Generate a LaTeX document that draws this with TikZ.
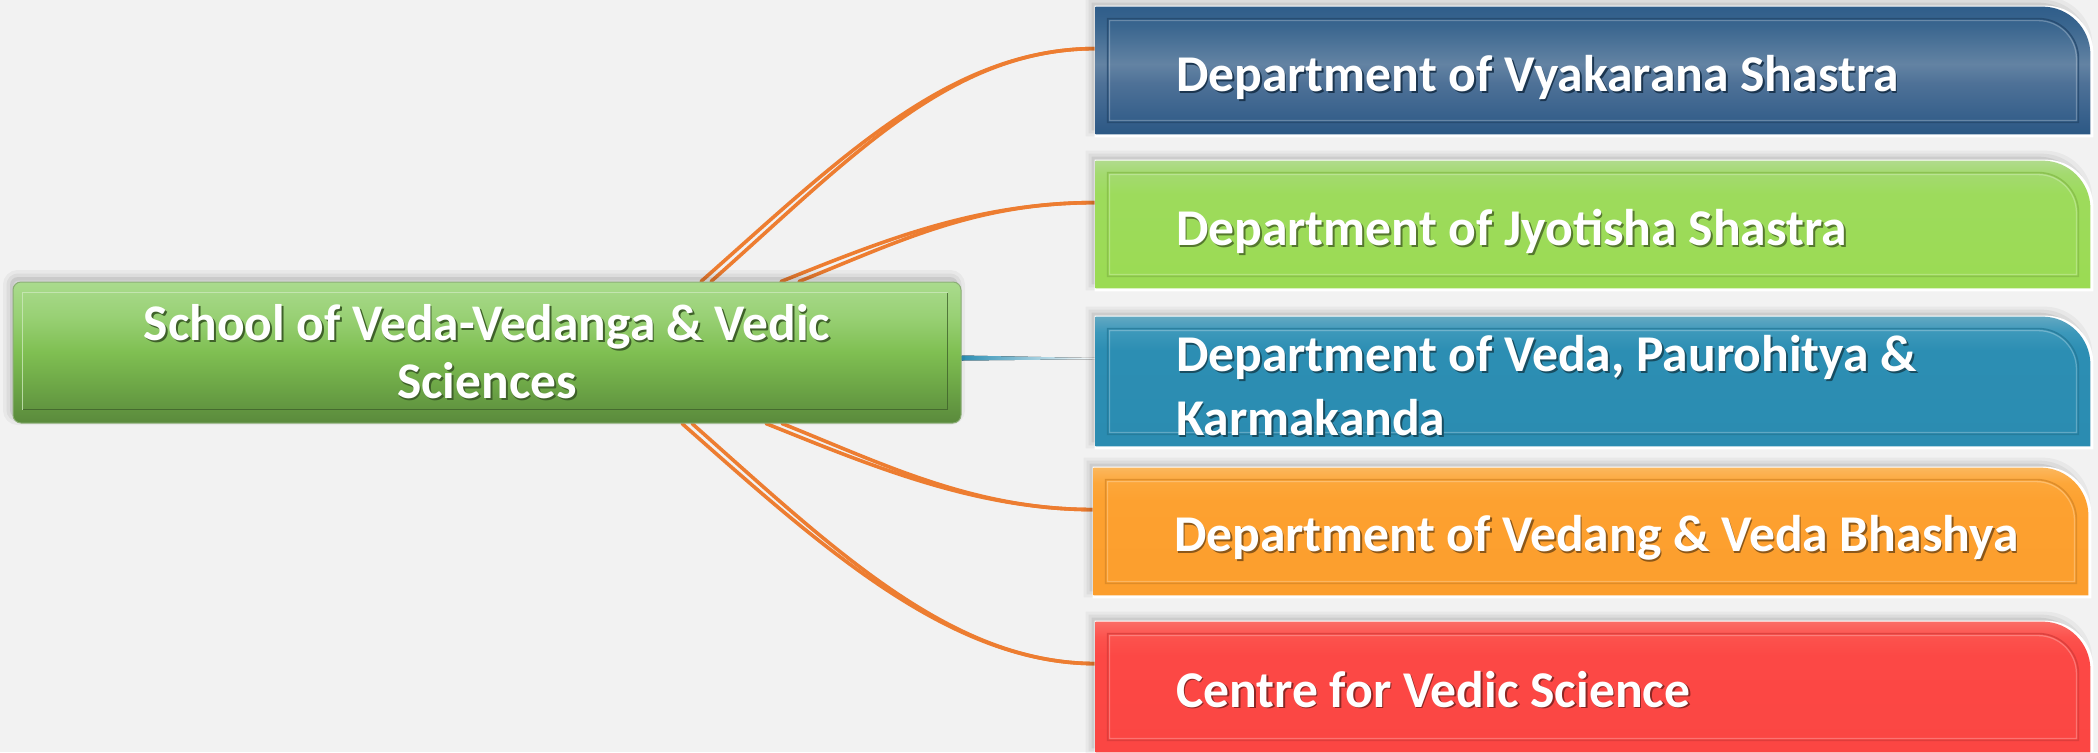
\documentclass[tikz,border=0pt]{standalone}
\usepackage{fontspec}
\setmainfont{Carlito}
\usetikzlibrary{backgrounds}

\definecolor{bgc}{HTML}{F2F2F2}
\definecolor{connc}{HTML}{ED7D31}
\definecolor{tealc}{HTML}{2B8EB3}
% blue box
\definecolor{bA0}{HTML}{2F5D8A}
\definecolor{bA1}{HTML}{3A668F}
\definecolor{bA2}{HTML}{6383A3}
\definecolor{bA3}{HTML}{4E7197}
\definecolor{bA4}{HTML}{38618C}
\definecolor{bA5}{HTML}{2C5884}
% green box
\definecolor{bB0}{HTML}{B0DB8C}
\definecolor{bB1}{HTML}{A4DA70}
\definecolor{bB2}{HTML}{9DDB5C}
\definecolor{bB3}{HTML}{9BDB53}
% teal box
\definecolor{bC0}{HTML}{62A8C2}
\definecolor{bC1}{HTML}{3C98BA}
\definecolor{bC2}{HTML}{2C8EB3}
\definecolor{bC3}{HTML}{2B8CB1}
% orange box
\definecolor{bD0}{HTML}{FBB75D}
\definecolor{bD1}{HTML}{FDA73A}
\definecolor{bD2}{HTML}{FDA130}
\definecolor{bD3}{HTML}{FC9E2D}
% red box
\definecolor{bE0}{HTML}{FB6C65}
\definecolor{bE1}{HTML}{FC524D}
\definecolor{bE2}{HTML}{FC4845}
\definecolor{bE3}{HTML}{FB4643}
% root
\definecolor{rA0}{HTML}{AADB8D}
\definecolor{rA1}{HTML}{98D074}
\definecolor{rA2}{HTML}{7FBF52}
\definecolor{rA3}{HTML}{6CA546}
\definecolor{rA4}{HTML}{5A8A3C}

\pgfdeclareverticalshading{shA}{100bp}{color(0bp)=(bA5); color(25bp)=(bA5); color(32.5bp)=(bA4); color(45bp)=(bA3); color(52.5bp)=(bA2); color(67.5bp)=(bA1); color(75bp)=(bA0); color(100bp)=(bA0)}
\pgfdeclareverticalshading{shB}{100bp}{color(0bp)=(bB3); color(25bp)=(bB3); color(62bp)=(bB2); color(70bp)=(bB1); color(75bp)=(bB0); color(100bp)=(bB0)}
\pgfdeclareverticalshading{shC}{100bp}{color(0bp)=(bC3); color(25bp)=(bC3); color(62bp)=(bC2); color(69bp)=(bC1); color(75bp)=(bC0); color(100bp)=(bC0)}
\pgfdeclareverticalshading{shD}{100bp}{color(0bp)=(bD3); color(25bp)=(bD3); color(62bp)=(bD2); color(69bp)=(bD1); color(75bp)=(bD0); color(100bp)=(bD0)}
\pgfdeclareverticalshading{shE}{100bp}{color(0bp)=(bE3); color(25bp)=(bE3); color(62bp)=(bE2); color(69bp)=(bE1); color(75bp)=(bE0); color(100bp)=(bE0)}
\pgfdeclareverticalshading{shRoot}{100bp}{color(0bp)=(rA4); color(25bp)=(rA4); color(37.5bp)=(rA3); color(50bp)=(rA2); color(62.5bp)=(rA1); color(75bp)=(rA0); color(100bp)=(rA0)}

% path of a department box: #1 node, #2 inset, #3 dx, #4 dy, #5 corner radius
\newcommand\dpath[5]{([shift={({#3+#2},{#4+#2})}]#1.south west) -- ([shift={({#3+#2},{#4-#2})}]#1.north west) -- ([shift={({#3-#2-#5},{#4-#2})}]#1.north east) .. controls ([shift={({#3-#2-0.45*#5},{#4-#2})}]#1.north east) and ([shift={({#3-#2},{#4-#2-0.45*#5})}]#1.north east) .. ([shift={({#3-#2},{#4-#2-#5})}]#1.north east) -- ([shift={({#3-#2},{#4+#2})}]#1.south east) -- cycle}

% #1 node, #2 shading, #3 frame colour
\newcommand\deptbox[3]{%
  \fill[black,opacity=0.04] \dpath{#1}{-3pt}{-2pt}{2pt}{24pt};
  \fill[black,opacity=0.05] \dpath{#1}{-1.5pt}{-2pt}{2pt}{24pt};
  \fill[black,opacity=0.07] \dpath{#1}{0pt}{-2pt}{2pt}{24pt};
  \fill[white] \dpath{#1}{-1pt}{0.5pt}{-0.5pt}{24pt};
  \shade[shading=#2] \dpath{#1}{0pt}{0pt}{0pt}{24pt};
  \draw[#3, line width=0.8pt, opacity=0.75] \dpath{#1}{6pt}{0pt}{0pt}{20pt};
  \draw[white, line width=0.6pt, opacity=0.25] \dpath{#1}{7pt}{0pt}{0pt}{19pt};
}

% text with a soft dark shadow: #1 shadow colour, #2 text
\newcommand\shtxt[2]{\makebox[0pt][l]{\hspace{0.9pt}\raisebox{-0.9pt}{\textcolor{#1}{#2}}}#2}

\tikzset{
  lbl/.style={anchor=base west, text=white, font=\bfseries\fontsize{25.8}{30}\selectfont, inner sep=0pt, align=left},
  deptanchor/.style={minimum width=497pt, minimum height=63.5pt, inner sep=0pt, draw=none},
  conn/.style={draw=connc, line width=1.8pt, line cap=round},
  rootbox/.style={minimum width=474pt, minimum height=70.5pt, inner sep=0pt, rounded corners=4pt,
    shade, shading=shRoot, draw=rA4!70!white, line width=0.5pt, align=center, text=white,
    font=\bfseries\fontsize{25.7}{29}\selectfont,
    preaction={draw=black, line width=7pt, opacity=0.04, transform canvas={xshift=-1.5pt,yshift=2.5pt}},
    preaction={draw=black, line width=3.5pt, opacity=0.05, transform canvas={xshift=-1.5pt,yshift=2.5pt}},
    preaction={fill=black, opacity=0.08, transform canvas={xshift=-1.5pt,yshift=2.5pt}}},
}

\begin{document}
\begin{tikzpicture}[x=0.5pt,y=-0.5pt]
\useasboundingbox (0,0) rectangle (2098,752);

% department boxes (anchors)
\node[deptanchor] (d1) at (1593,70.5) {};
\node[deptanchor] (d2) at (1593,224.5) {};
\node[deptanchor, minimum height=64.5pt] (d3) at (1593,381.5) {};
\node[deptanchor] (d4) at (1591,531.5) {};
\node[deptanchor, minimum height=65pt] (d5) at (1593,687) {};

\deptbox{d1}{shA}{bA5!80!black}
\deptbox{d2}{shB}{bB3!85!black}
\deptbox{d3}{shC}{bC3!85!black}
\deptbox{d4}{shD}{bD3!85!black}
\deptbox{d5}{shE}{bE3!85!black}

% root
\node[rootbox] (root) at (487,352.5) {\shtxt{rA4!70!black}{School of Veda-Vedanga \& Vedic}\\\shtxt{rA4!70!black}{Sciences}};
\draw[rA0!60!white, line width=0.8pt, opacity=0.8] ([shift={(5pt,7pt)}]root.south west) -- ([shift={(5pt,-5.5pt)}]root.north west) -- ([shift={(-7pt,-5.5pt)}]root.north east);
\draw[rA4!70!black, line width=0.9pt, opacity=0.8] ([shift={(-7pt,-5.5pt)}]root.north east) -- ([shift={(-7pt,7pt)}]root.south east) -- ([shift={(5pt,7pt)}]root.south west);

% labels
\node[lbl] at ([xshift=40pt,yshift=-10.5pt]d1.west) {\shtxt{bA5!60!black}{Department of Vyakarana Shastra}};
\node[lbl] at ([xshift=40pt,yshift=-10.5pt]d2.west) {\shtxt{bB3!55!black}{Department of Jyotisha Shastra}};
\node[lbl, anchor=west, font=\bfseries\fontsize{25.8}{32}\selectfont] at ([xshift=40pt,yshift=-2.5pt]d3.west) {\shtxt{bC3!55!black}{Department of Veda, Paurohitya \&}\\\shtxt{bC3!55!black}{Karmakanda}};
\node[lbl] at ([xshift=40pt,yshift=-10pt]d4.west) {\shtxt{bD3!55!black}{Department of Vedang \& Veda Bhashya}};
\node[lbl] at ([xshift=40pt,yshift=-10pt]d5.west) {\shtxt{bE3!55!black}{Centre for Vedic Science}};

% background and connectors
\begin{scope}[on background layer]
\fill[bgc] (0,0) rectangle (2098,752);
\draw[conn] ([xshift=107pt]root.north) .. controls +(138,-122) and +(-146,0) .. ([yshift=-21pt]d1.north west);
\draw[conn] ([xshift=112pt]root.north) .. controls +(138,-122) and +(-146,0) .. ([yshift=-21pt]d1.north west);
\draw[conn] ([xshift=147pt]root.north) .. controls +(100,-40) and +(-120,0) .. ([yshift=-21pt]d2.north west);
\draw[conn] ([xshift=156pt]root.north) .. controls +(100,-40) and +(-120,0) .. ([yshift=-21pt]d2.north west);
\fill[left color=tealc, right color=white] ([yshift=-1.5pt]root.east) -- ([yshift=-20.7pt]d3.north west) -- ([yshift=-21.3pt]d3.north west) -- ([yshift=-4pt]root.east) -- cycle;
\draw[conn] ([xshift=139.5pt]root.south) .. controls +(100,40) and +(-120,0) .. ([yshift=-21pt]d4.north west);
\draw[conn] ([xshift=147.5pt]root.south) .. controls +(100,40) and +(-120,0) .. ([yshift=-21pt]d4.north west);
\draw[conn] ([xshift=97.5pt]root.south) .. controls +(138,122) and +(-146,0) .. ([yshift=-21pt]d5.north west);
\draw[conn] ([xshift=102.5pt]root.south) .. controls +(138,122) and +(-146,0) .. ([yshift=-21pt]d5.north west);
\end{scope}
\end{tikzpicture}
\end{document}
